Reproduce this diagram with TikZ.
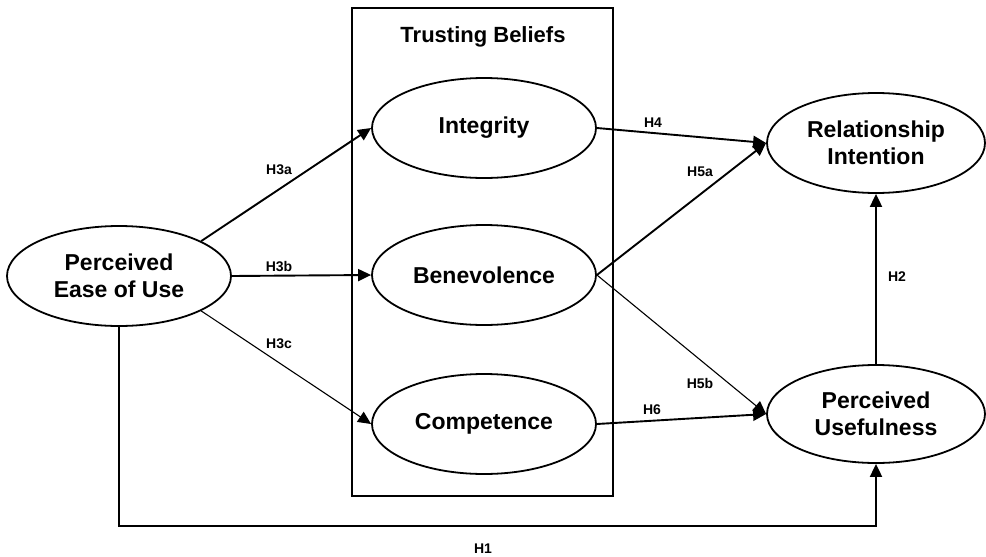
\documentclass[tikz,border=0pt]{standalone}
\usepackage{fontspec}
\setmainfont{Liberation Sans}
\usetikzlibrary{arrows.meta,shapes.geometric}
\begin{document}
\begin{tikzpicture}[x=1pt,y=-1pt,
  cons/.style={ellipse,draw,line width=1.8pt,minimum width=224pt,minimum height=100pt,inner sep=0pt,align=center,font=\fontsize{23}{27}\selectfont\bfseries},
  lab/.style={font=\fontsize{14}{16}\selectfont\bfseries,inner sep=0pt},
  arr/.style={line width=1.9pt,-{Triangle[length=13pt,width=12pt]}},
  thinarr/.style={line width=1.1pt,-{Triangle[length=13pt,width=12pt]}},
  frame/.style={draw,line width=1.8pt}]
\useasboundingbox (0,0) rectangle (986,557);
\fill[white] (0,0) rectangle (986,557);
% Trusting beliefs frame
\draw[frame] (352,8) rectangle (613,496);
\node[font=\fontsize{22}{26}\selectfont\bfseries,anchor=base,inner sep=0pt] (tb) at (483,42) {Trusting Beliefs};
% constructs
\node[cons] (ease) at (119,276) {Perceived\\Ease of Use};
\node[cons] (int) at (484,128) {Integrity};
\node[cons] (ben) at (484,275) {Benevolence};
\node[cons] (comp) at (484,424) {Competence};
\node[cons,minimum width=218pt,minimum height=100pt] (rel) at (876,143) {Relationship\\Intention};
\node[cons,minimum width=218pt,minimum height=98pt] (use) at (876,414) {Perceived\\Usefulness};
% connectors
\draw[arr] (ease.23) -- (int.west);
\draw[arr] (ease.east) -- (ben.west);
\draw[thinarr] (ease.-23) -- (comp.west);
\draw[arr] (int.east) -- (rel.west);
\draw[arr] (ben.east) -- (rel.west);
\draw[thinarr] (ben.east) -- (use.west);
\draw[arr] (comp.east) -- (use.west);
\draw[arr] (use.north) -- (rel.south);
\coordinate (h1c) at (119,526);
\draw[arr] (ease.south) -- (h1c) -| (use.south);
% labels
\node[lab] (l3a) at (279,170) {H3a};
\node[lab] (l3b) at (279,267) {H3b};
\node[lab] (l3c) at (279,344) {H3c};
\node[lab] (l4) at (653,123) {H4};
\node[lab] (l5a) at (700,172) {H5a};
\node[lab] (l5b) at (700,383) {H5b};
\node[lab] (l6) at (652,410) {H6};
\node[lab] (l2) at (897,277) {H2};
\node[lab] (l1) at (483,549) {H1};
\end{tikzpicture}
\end{document}
